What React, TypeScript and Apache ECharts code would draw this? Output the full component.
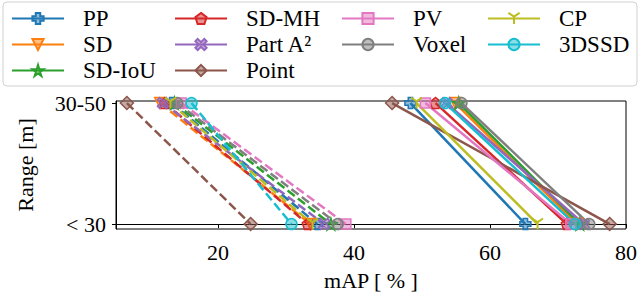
import React, { useEffect, useRef } from 'react';
import * as echarts from 'echarts';

const methods = ['PP', 'SD', 'SD-IoU', 'SD-MH', 'Part A²', 'Point', 'PV', 'Voxel', 'CP', '3DSSD'];
const colors = ['#1f77b4', '#ff7f0e', '#2ca02c', '#d62728', '#9467bd', '#8c564b', '#e377c2', '#7f7f7f', '#bcbd22', '#17becf'];
const rangeLabels = ['< 30', '30-50'];
// dashed group (left)
const dashedNear = [34.6, 33.6, 36.6, 33.2, 35.6, 24.8, 38.8, 37.6, 33.9, 30.8];
const dashedFar = [13.2, 11.5, 13.6, 12.2, 11.9, 6.6, 14.6, 14.0, 13.0, 16.1];
// solid group (right)
const solidNear = [65.2, 72.8, 73.2, 71.3, 73.8, 77.6, 71.9, 74.6, 67.0, 72.5];
const solidFar = [48.3, 54.9, 55.4, 52.0, 53.6, 45.6, 50.5, 55.8, 49.2, 53.4];
const xTicks = [20, 40, 60, 80];

const FONT = 'Liberation Serif';

const symbols: string[] = [
  'path://M3,0H7V3H10V7H7V10H3V7H0V3H3Z',
  'triangle',
  'path://M50,0L61,35L98,35L68,57L79,91L50,70L21,91L32,57L2,35L39,35Z',
  'path://M50,0L98,35L79,91L21,91L2,35Z',
  'path://M20,0L50,30L80,0L100,20L70,50L100,80L80,100L50,70L20,100L0,80L30,50L0,20Z',
  'diamond',
  'rect',
  'circle',
  'path://M50,50L50,100M50,50L7,25M50,50L93,25',
  'circle',
];
const symbolSizes = [11, 11, 12, 11, 11, 13, 10, 11, 11, 11];
const symbolRotates = [0, 180, 0, 0, 0, 0, 0, 0, 0, 0];

function hexA(hex: string, a: number) {
  const r = parseInt(hex.slice(1, 3), 16);
  const g = parseInt(hex.slice(3, 5), 16);
  const b = parseInt(hex.slice(5, 7), 16);
  return `rgba(${r},${g},${b},${a})`;
}

export default function App() {
  const ref = useRef<HTMLDivElement>(null);
  useEffect(() => {
    if (!ref.current) return;
    const chart = echarts.init(ref.current, undefined, { renderer: 'svg' });
    const series: any[] = [];
    const mk = (i: number, dashed: boolean) => ({
      type: 'line',
      name: methods[i],
      data: dashed
        ? [[dashedFar[i], 1], [dashedNear[i], 0]]
        : [[solidFar[i], 1], [solidNear[i], 0]],
      symbol: symbols[i],
      symbolSize: symbolSizes[i],
      symbolRotate: symbolRotates[i],
      showSymbol: true,
      lineStyle: { color: colors[i], width: 2.5, type: dashed ? [9, 4] : 'solid' },
      itemStyle: {
        color: i === 8 ? 'none' : hexA(colors[i], 0.5),
        borderColor: colors[i],
        borderWidth: i === 8 ? 2 : 1.5,
        opacity: 1,
      },
      emphasis: { disabled: true },
      z: 3,
    });
    for (let i = 0; i < methods.length; i++) series.push(mk(i, false));
    for (let i = 0; i < methods.length; i++) series.push(mk(i, true));

    const cols = [[0, 1, 2], [3, 4, 5], [6, 7], [8, 9]];
    const colLeft = [11, 174, 341, 487];
    const legends = cols.map((c, j) => ({
      data: c.map((i) => methods[i]),
      orient: 'vertical',
      left: colLeft[j],
      top: 7,
      itemWidth: 52,
      itemHeight: 14,
      itemGap: 3,
      selectedMode: false,
      padding: 0,
      formatter: '{t|{name}}',
      textStyle: {
        fontFamily: FONT,
        fontSize: 23,
        color: '#000',
        rich: { t: { fontFamily: FONT, fontSize: 23, color: '#000', lineHeight: 22, padding: [0, 0, 0, 14] } },
      },
    }));

    chart.setOption({
      animation: false,
      backgroundColor: '#fff',
      textStyle: { fontFamily: FONT },
      grid: { left: 116, right: 13, top: 101, bottom: 65, show: true, borderColor: '#000', borderWidth: 1, containLabel: false },
      legend: legends,
      graphic: [
        {
          type: 'rect',
          z: -1,
          shape: { x: 3, y: 2, width: 634, height: 84, r: 4 },
          style: { fill: '#fff', stroke: '#d0d0d0', lineWidth: 1 },
        },
      ],
      xAxis: {
        type: 'value',
        min: 5,
        max: 80,
        name: 'mAP [ % ]',
        nameLocation: 'middle',
        nameGap: 40,
        nameTextStyle: { fontFamily: FONT, fontSize: 22, color: '#000' },
        axisLine: { show: true, lineStyle: { color: '#000', width: 1 } },
        axisTick: { show: true, inside: false, length: 4, lineStyle: { color: '#000' }, customValues: xTicks },
        axisLabel: { fontFamily: FONT, fontSize: 22, color: '#000', margin: 12, customValues: xTicks },
        splitLine: { show: false },
      },
      yAxis: {
        type: 'value',
        min: -0.041,
        max: 1.017,
        name: 'Range [m]',
        nameLocation: 'middle',
        nameRotate: 90,
        nameGap: 80,
        nameTextStyle: { fontFamily: FONT, fontSize: 22, color: '#000' },
        axisLine: { show: true, lineStyle: { color: '#000', width: 1 } },
        axisTick: { show: true, inside: false, length: 4, lineStyle: { color: '#000' }, customValues: [0, 1] },
        axisLabel: {
          fontFamily: FONT,
          fontSize: 22,
          color: '#000',
          margin: 10,
          customValues: [0, 1],
          formatter: (v: number) => (v >= 0.5 ? rangeLabels[1] : rangeLabels[0]),
        },
        splitLine: { show: false },
      },
      series,
    });
    return () => chart.dispose();
  }, []);
  return <div ref={ref} style={{ position: 'fixed', left: 0, top: 0, width: 640, height: 294 }} />;
}
